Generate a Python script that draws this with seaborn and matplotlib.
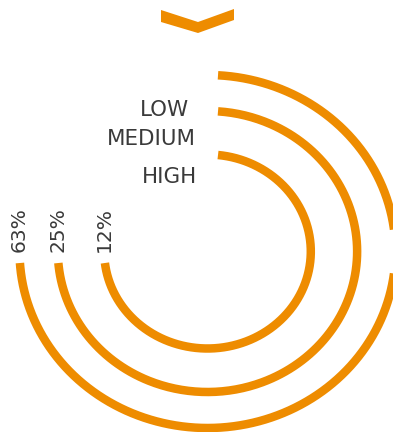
import numpy as np
import pandas as pd
import matplotlib
matplotlib.use("Agg")
import matplotlib.pyplot as plt
import seaborn as sns

# ---- data ----
levels = ["LOW", "MEDIUM", "HIGH"]
percent_labels = ["63%", "25%", "12%"]
shares = [63, 25, 12]

# ---- layout / style ----
ORANGE = "#EE8C00"
TEXT = "#3a3a3a"
W, H, DPI = 393, 432, 100
CX, CY = 207.5, 251.5          # centre in pixels
SX = 1.065                      # horizontal stretch
radii = [176.5, 140.5, 97.0]    # outer -> inner (vertical px)
start_off = 10.5 / SX
end_off = 11.5

sns.set_theme(style="white")
plt.rcParams["font.family"] = ["DejaVu Sans"]

fig = plt.figure(figsize=(W / DPI, H / DPI), dpi=DPI)
ax = fig.add_axes([0, 0, 1, 1])
ax.set_xlim(-CX / SX, (W - CX) / SX)
ax.set_ylim(-(H - CY), CY)
ax.axis("off")

rows = []
for lvl, r in zip(levels, radii):
    t0 = np.arcsin(start_off / r)
    t1 = 1.5 * np.pi - np.arcsin(end_off / r)
    th = np.linspace(t0, t1, 400)
    for t in th:
        rows.append({"level": lvl, "x": r * np.sin(t), "y": r * np.cos(t)})
df = pd.DataFrame(rows)

sns.lineplot(data=df, x="x", y="y", units="level", estimator=None, sort=False,
             color=ORANGE, linewidth=8.5 * 72 / DPI, solid_capstyle="butt",
             clip_on=False, ax=ax, legend=False)

# level labels
label_pos = [(189, 116.5), (196, 145), (197, 183)]
for lvl, (px, py) in zip(levels, label_pos):
    ax.text((px - CX) / SX, CY - py, lvl, ha="right", va="baseline",
            fontsize=15.4, color=TEXT)

# percent labels at arc ends
for lab, r in zip(percent_labels, radii):
    xe = -np.sqrt(r ** 2 - end_off ** 2)
    ax.text(xe - 0.5, -end_off + 10.5, lab, rotation=90, ha="center", va="bottom",
            fontsize=14.6, color=TEXT)

# chevron marker at top
chev = np.array([(161, 10), (198, 22), (234, 9), (234, 20), (198, 33), (161, 22)], float)
ax.fill((chev[:, 0] - CX) / SX, CY - chev[:, 1], color=ORANGE, lw=0)

fig.savefig("out.png", dpi=DPI)
